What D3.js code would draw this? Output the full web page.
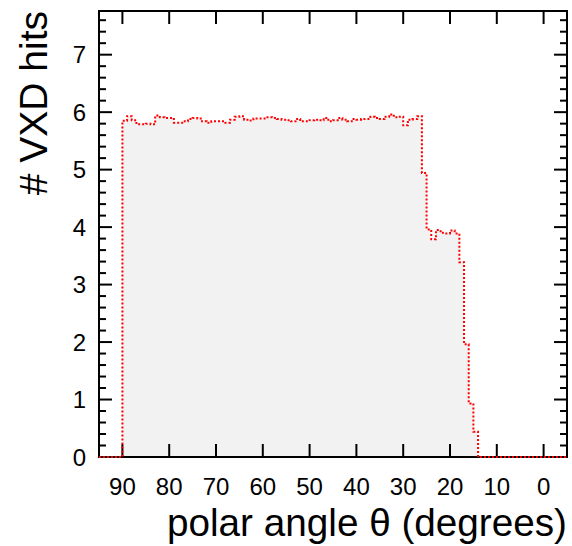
<!DOCTYPE html>
<html>
<head>
<meta charset="utf-8">
<script src="https://cdn.jsdelivr.net/npm/d3@7"></script>
<style>
  html, body { margin: 0; padding: 0; background: #fff; }
  svg { display: block; }
  text { font-family: "Liberation Sans", Arial, Helvetica, sans-serif; fill: #000; }
</style>
</head>
<body>
<svg id="chart" width="572" height="546"></svg>
<script>
// ---- data (bin lower edge in degrees, 1-degree bins; mean number of VXD hits) ----
const thetaLow = [94, 93, 92, 91, 90,
  89, 88, 87, 86, 85, 84, 83, 82, 81, 80,
  79, 78, 77, 76, 75, 74, 73, 72, 71, 70,
  69, 68, 67, 66, 65, 64, 63, 62, 61, 60,
  59, 58, 57, 56, 55, 54, 53, 52, 51, 50,
  49, 48, 47, 46, 45, 44, 43, 42, 41, 40,
  39, 38, 37, 36, 35, 34, 33, 32, 31, 30,
  29, 28, 27, 26, 25, 24, 23, 22, 21, 20,
  19, 18, 17, 16, 15, 14, 13, 12, 11, 10,
  9, 8, 7, 6, 5, 4, 3, 2, 1, 0,
  -1, -2, -3, -4, -5];
const hits = [0, 0, 0, 0, 0,
  5.85, 5.93, 5.86, 5.79, 5.79, 5.80, 5.79, 5.94, 5.91, 5.90,
  5.90, 5.815, 5.815, 5.84, 5.88, 5.90, 5.89, 5.84, 5.815, 5.84,
  5.84, 5.84, 5.815, 5.87, 5.92, 5.93, 5.87, 5.855, 5.89, 5.89,
  5.89, 5.91, 5.90, 5.88, 5.87, 5.86, 5.84, 5.88, 5.84, 5.84,
  5.86, 5.87, 5.86, 5.90, 5.84, 5.86, 5.90, 5.87, 5.84, 5.88,
  5.87, 5.88, 5.88, 5.92, 5.90, 5.88, 5.92, 5.96, 5.91, 5.92,
  5.77, 5.87, 5.88, 5.93, 4.94, 3.96, 3.79, 3.95, 3.90, 3.89,
  3.94, 3.89, 3.39, 1.96, 0.93, 0.44, 0, 0, 0, 0,
  0, 0, 0, 0, 0, 0, 0, 0, 0, 0,
  0, 0, 0, 0, 0];
const binWidth = 1;
const xTicks = [90, 80, 70, 60, 50, 40, 30, 20, 10, 0];
const yTicks = [0, 1, 2, 3, 4, 5, 6, 7];
const yMinorStep = 0.2;
const xDomain = [95, -5];
const yDomain = [0, 7.76];
const xTitle = "polar angle \u03b8 (degrees)";
const yTitle = "# VXD hits";

// ---- layout ----
const L = 99, R = 567, T = 11, B = 457;
const svg = d3.select("#chart");
const x = d3.scaleLinear().domain(xDomain).range([L, R]);
const y = d3.scaleLinear().domain(yDomain).range([B, T]);

// histogram outline points
const pts = [];
thetaLow.forEach((lo, i) => {
  pts.push([lo + binWidth, hits[i]]);
  pts.push([lo, hits[i]]);
});

// fill
svg.append("path")
  .datum(pts)
  .attr("fill", "#f2f2f2")
  .attr("stroke", "none")
  .attr("d", d3.area().x(d => x(d[0])).y0(y(0)).y1(d => y(d[1])));

// frame
svg.append("rect")
  .attr("x", L).attr("y", T).attr("width", R - L).attr("height", B - T)
  .attr("fill", "none").attr("stroke", "#000").attr("stroke-width", 2);

// y ticks (left & right)
const yMinor = d3.range(0, yDomain[1] + 1e-9, yMinorStep);
const tickG = svg.append("g").attr("stroke", "#000").attr("stroke-width", 2);
yMinor.forEach(v => {
  const isMajor = Math.abs(v - Math.round(v)) < 1e-6;
  const len = isMajor ? 13 : 7;
  tickG.append("line").attr("x1", L).attr("x2", L + len).attr("y1", y(v)).attr("y2", y(v));
  tickG.append("line").attr("x1", R).attr("x2", R - len).attr("y1", y(v)).attr("y2", y(v));
});
// x ticks (bottom & top)
xTicks.forEach(v => {
  tickG.append("line").attr("x1", x(v)).attr("x2", x(v)).attr("y1", B).attr("y2", B - 13);
  tickG.append("line").attr("x1", x(v)).attr("x2", x(v)).attr("y1", T).attr("y2", T + 13);
});

// histogram line (red dotted)
svg.append("path")
  .datum(pts)
  .attr("fill", "none")
  .attr("stroke", "#ff0000")
  .attr("stroke-width", 2)
  .attr("stroke-dasharray", "2,2")
  .attr("d", d3.line().x(d => x(d[0])).y(d => y(d[1])));

// tick labels
svg.append("g").selectAll("text").data(yTicks).join("text")
  .attr("x", 86).attr("y", d => y(d)).attr("dy", "0.36em")
  .attr("text-anchor", "end").attr("font-size", 24).text(d => d);
svg.append("g").selectAll("text").data(xTicks).join("text")
  .attr("x", d => x(d)).attr("y", 495)
  .attr("text-anchor", "middle").attr("font-size", 24).text(d => d);

// axis titles
svg.append("text")
  .attr("x", R).attr("y", 536).attr("text-anchor", "end")
  .attr("font-size", 38.7).text(xTitle);
svg.append("text")
  .attr("transform", `translate(47, ${T}) rotate(-90)`)
  .attr("text-anchor", "end").attr("font-size", 39).text(yTitle);
</script>
</body>
</html>
